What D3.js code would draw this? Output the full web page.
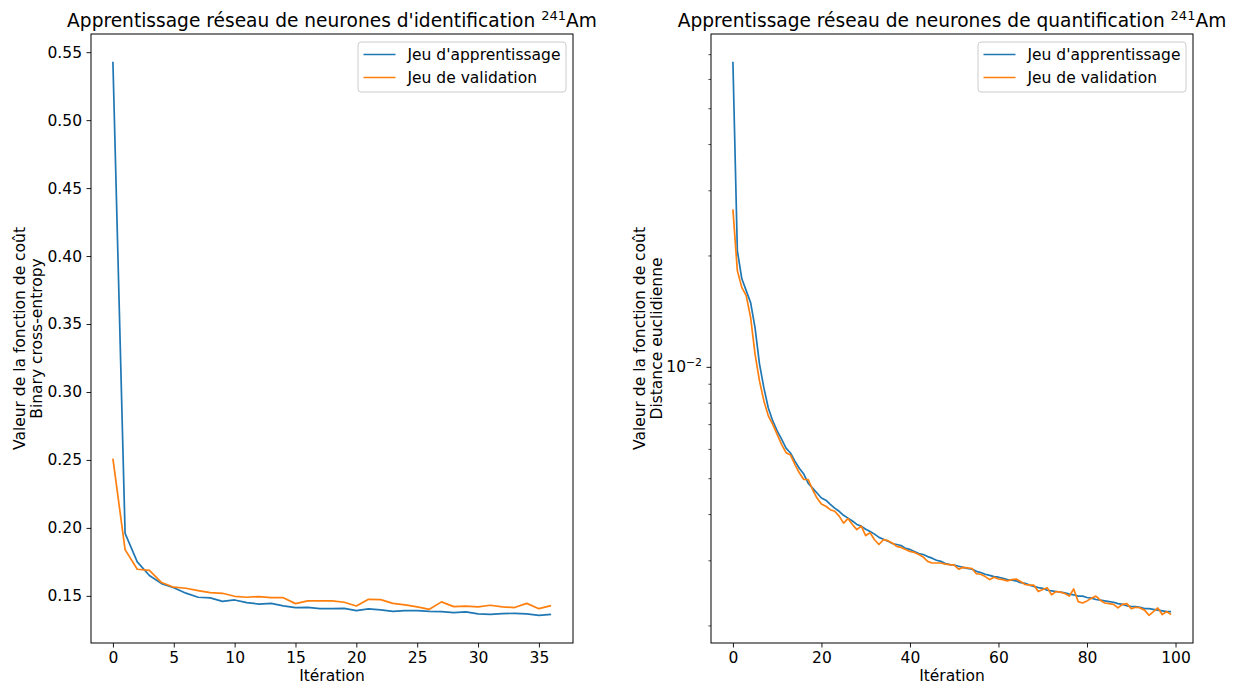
<!DOCTYPE html>
<html><head><meta charset="utf-8">
<script src="https://cdn.jsdelivr.net/npm/d3@7"></script>
<style>
body{margin:0;background:#fff}
svg text{font-family:"DejaVu Sans",sans-serif;fill:#000}
</style>
</head><body>
<svg id="chart" width="1234" height="684"></svg>
<script>
// ---------- data ----------
const seriesNames = ["Jeu d'apprentissage", "Jeu de validation"];
const seriesColors = ["#1f77b4", "#ff7f0e"];

// identification network (binary cross-entropy), iterations 0..36
const idTrain = [0.543,0.196,0.175,0.165,0.159,0.156,0.152,0.149,0.1485,0.146,0.147,0.145,0.144,0.1445,0.1426,0.1414,0.1416,0.1406,0.1406,0.1408,0.1391,0.1404,0.1397,0.1386,0.1391,0.1391,0.1386,0.1384,0.1377,0.1382,0.1367,0.1364,0.1369,0.1372,0.1367,0.1357,0.1364];
const idVal = [0.251,0.184,0.1696,0.1687,0.1598,0.1564,0.1556,0.1539,0.1524,0.1519,0.1497,0.149,0.1495,0.1487,0.1487,0.1443,0.1463,0.1463,0.1463,0.1453,0.1426,0.1475,0.1472,0.1445,0.1434,0.1419,0.1401,0.1456,0.1421,0.1424,0.1419,0.1431,0.1419,0.1414,0.1445,0.1406,0.1428];

// quantification network (euclidean distance), iterations 0..99
const quantTrain = [0.0668,0.02062,0.01732,0.01607,0.01491,0.01276,0.01019,0.00877,0.00774,0.00714,
0.00671,0.00638,0.00603,0.00585,0.00556,0.00532,0.00513,0.00485,0.0047,0.00456,
0.00442,0.00436,0.00425,0.00415,0.00407,0.00397,0.0039,0.00383,0.00375,0.00371,
0.00364,0.00359,0.00353,0.00346,0.00342,0.00338,0.00333,0.00331,0.00329,0.00323,
0.00321,0.00317,0.00313,0.00311,0.00307,0.00304,0.003,0.00298,0.00294,0.00292,
0.00291,0.00289,0.00287,0.00285,0.00284,0.0028,0.00278,0.00275,0.00273,0.00271,
0.0027,0.00268,0.00266,0.00265,0.00264,0.00261,0.0026,0.00257,0.00255,0.00253,
0.00252,0.00249,0.00248,0.00247,0.00246,0.00245,0.00243,0.00242,0.0024,0.0024,
0.00238,0.00237,0.00235,0.00234,0.00233,0.00232,0.00231,0.00229,0.00228,0.00226,
0.00225,0.00225,0.00224,0.00222,0.00222,0.00221,0.0022,0.00219,0.00218,0.00218];
const quantVal = [0.02664,0.0182,0.0164,0.01557,0.0136,0.01082,0.00916,0.00809,0.00737,0.00699,
0.00657,0.00617,0.00586,0.00578,0.00545,0.00517,0.00496,0.00496,0.00466,0.00442,
0.00426,0.0042,0.00411,0.00407,0.00395,0.00378,0.00389,0.00375,0.00363,0.00371,
0.0035,0.00356,0.00341,0.00331,0.00341,0.00339,0.00334,0.00327,0.00325,0.00321,
0.00317,0.00315,0.00311,0.00306,0.00298,0.00295,0.00295,0.00295,0.00293,0.00292,
0.00291,0.00284,0.00287,0.00286,0.00285,0.00276,0.00275,0.00271,0.00266,0.0027,
0.00267,0.00266,0.00264,0.00266,0.00267,0.00263,0.00258,0.00257,0.00257,0.00247,
0.0025,0.00253,0.00242,0.00247,0.00246,0.00244,0.0024,0.00251,0.00232,0.0023,
0.00233,0.00237,0.0024,0.00234,0.0023,0.00229,0.00228,0.00223,0.00228,0.00229,
0.00222,0.00224,0.00223,0.0022,0.00213,0.00218,0.00223,0.00214,0.00218,0.00214];

const idXTicks = [0,5,10,15,20,25,30,35];
const idYTicks = [0.15,0.20,0.25,0.30,0.35,0.40,0.45,0.50,0.55];
const quantXTicks = [0,20,40,60,80,100];
const quantYMajor = [0.01];
const quantYMinor = [0.002,0.003,0.004,0.005,0.006,0.007,0.008,0.009,0.02,0.03,0.04,0.05,0.06,0.07,0.08,0.09];

const panels = [
  {title:"Apprentissage réseau de neurones d'identification ", yl1:"Valeur de la fonction de coût", yl2:"Binary cross-entropy",
   left:91, right:573, train:idTrain, val:idVal, log:false},
  {title:"Apprentissage réseau de neurones de quantification ", yl1:"Valeur de la fonction de coût", yl2:"Distance euclidienne",
   left:711, right:1193, train:quantTrain, val:quantVal, log:true}
];
const plotTop = 34, plotBottom = 643;
const FS = 15.5;
const TFS = 18.6;

const svg = d3.select("#chart");

panels.forEach(p => {
  const n = p.train.length;
  const xm = (n - 1) * 0.05;
  const x = d3.scaleLinear().domain([-xm, n - 1 + xm]).range([p.left, p.right]);
  const all = p.train.concat(p.val);
  let y;
  if (p.log) {
    const lo = Math.log10(d3.min(all)), hi = Math.log10(d3.max(all));
    const m = (hi - lo) * 0.05;
    y = d3.scaleLog().domain([Math.pow(10, lo - m), Math.pow(10, hi + m)]).range([plotBottom, plotTop]);
  } else {
    const lo = d3.min(all), hi = d3.max(all), m = (hi - lo) * 0.05;
    y = d3.scaleLinear().domain([lo - m, hi + m]).range([plotBottom, plotTop]);
  }
  const g = svg.append("g");

  // lines
  const line = d3.line().x((d, i) => x(i)).y(d => y(d));
  [p.train, p.val].forEach((s, k) => {
    g.append("path").datum(s).attr("d", line).attr("fill", "none")
      .attr("stroke", seriesColors[k]).attr("stroke-width", 1.7).attr("stroke-linejoin", "round");
  });

  // x axis
  const xa = g.append("g").attr("transform", `translate(0,${plotBottom})`)
    .call(d3.axisBottom(x).tickValues(p.log ? quantXTicks : idXTicks).tickFormat(d3.format("d")).tickSize(4.5).tickPadding(4.5).tickSizeOuter(0));
  xa.select(".domain").remove();
  xa.selectAll("text").attr("font-size", FS).attr("font-family", "DejaVu Sans");
  xa.selectAll("line").attr("stroke", "#000").attr("stroke-width", 0.9);

  // y axis
  if (p.log) {
    const ya = g.append("g").attr("transform", `translate(${p.left},0)`)
      .call(d3.axisLeft(y).tickValues(quantYMajor).tickFormat("").tickSize(4.5).tickPadding(4.5).tickSizeOuter(0));
    ya.select(".domain").remove();
    ya.selectAll("line").attr("stroke", "#000").attr("stroke-width", 0.9);
    const dom = y.domain();
    const minors = quantYMinor.filter(v => v >= dom[0] && v <= dom[1]);
    const yb = g.append("g").attr("transform", `translate(${p.left},0)`)
      .call(d3.axisLeft(y).tickValues(minors).tickFormat("").tickSize(2.6).tickSizeOuter(0));
    yb.select(".domain").remove();
    yb.selectAll("line").attr("stroke", "#000").attr("stroke-width", 0.7);
    quantYMajor.forEach(v => {
      const t = g.append("text").attr("x", p.left - 9).attr("y", y(v)).attr("dy", "0.32em")
        .attr("text-anchor", "end").attr("font-size", FS);
      t.append("tspan").text("10");
      t.append("tspan").attr("font-size", FS * 0.7).attr("dy", "-0.55em").text("−" + Math.round(-Math.log10(v)));
    });
  } else {
    const ya = g.append("g").attr("transform", `translate(${p.left},0)`)
      .call(d3.axisLeft(y).tickValues(idYTicks).tickFormat(d3.format(".2f")).tickSize(4.5).tickPadding(4.5).tickSizeOuter(0));
    ya.select(".domain").remove();
    ya.selectAll("text").attr("font-size", FS).attr("font-family", "DejaVu Sans");
    ya.selectAll("line").attr("stroke", "#000").attr("stroke-width", 0.9);
  }

  // frame
  g.append("rect").attr("x", p.left).attr("y", plotTop).attr("width", p.right - p.left).attr("height", plotBottom - plotTop)
    .attr("fill", "none").attr("stroke", "#000").attr("stroke-width", 1);

  // x label
  g.append("text").attr("x", (p.left + p.right) / 2).attr("y", 681).attr("text-anchor", "middle")
    .attr("font-size", FS).text("Itération");

  // y label (two lines)
  const cy = (plotTop + plotBottom) / 2;
  g.append("text").attr("transform", `translate(${p.left - 66.5},${cy}) rotate(-90)`).attr("text-anchor", "middle")
    .attr("font-size", FS).text(p.yl1);
  g.append("text").attr("transform", `translate(${p.left - 49},${cy}) rotate(-90)`).attr("text-anchor", "middle")
    .attr("font-size", FS).text(p.yl2);

  // title
  const tt = g.append("text").attr("x", (p.left + p.right) / 2).attr("y", 27).attr("text-anchor", "middle")
    .attr("font-size", TFS);
  tt.append("tspan").text(p.title);
  tt.append("tspan").attr("font-size", TFS * 0.7).attr("dy", -7.5).text("241");
  tt.append("tspan").attr("dy", 7.5).text("Am");

  // legend
  const lw = 208, lh = 50;
  const lx = p.right - 7 - lw, ly = plotTop + 8;
  const lg = g.append("g").attr("transform", `translate(${lx},${ly})`);
  lg.append("rect").attr("width", lw).attr("height", lh).attr("rx", 3).attr("ry", 3)
    .attr("fill", "#fff").attr("fill-opacity", 0.8).attr("stroke", "#cccccc").attr("stroke-width", 1);
  seriesNames.forEach((nm, k) => {
    const yy = 12.5 + k * 23;
    lg.append("line").attr("x1", 5.5).attr("x2", 37.5).attr("y1", yy).attr("y2", yy)
      .attr("stroke", seriesColors[k]).attr("stroke-width", 1.7);
    lg.append("text").attr("x", 49.5).attr("y", yy).attr("dy", "0.36em").attr("font-size", FS).text(nm);
  });
});
</script>
</body></html>
